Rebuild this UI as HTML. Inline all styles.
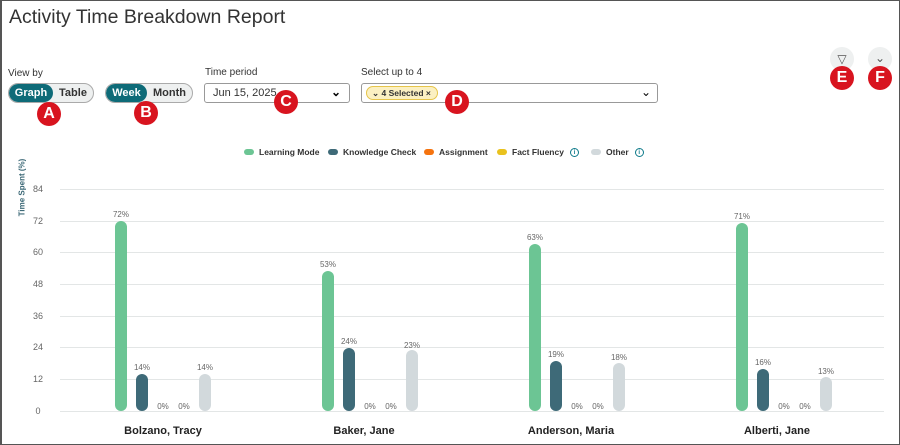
<!DOCTYPE html>
<html><head><meta charset="utf-8"><style>
*{box-sizing:border-box;margin:0;padding:0}
body{width:900px;height:445px;background:#fff;font-family:"Liberation Sans",sans-serif;position:relative;overflow:hidden;border:1px solid #555;border-left:2px solid #555}
.a{position:absolute}
.t{color:#333}
.seg{position:absolute;height:20px;border:1px solid #aaa;border-radius:10px;display:flex;overflow:hidden;font-size:11px;font-weight:bold;background:#eef0f0}
.seg div{display:flex;align-items:center;justify-content:center;color:#333}
.seg .on{background:#0e6b78;color:#fff;border-radius:10px}
.badge{position:absolute;width:24px;height:24px;border-radius:50%;background:#d8141f;color:#fff;font-size:16px;font-weight:bold;display:flex;align-items:center;justify-content:center}
.lbl{position:absolute;font-size:10px;color:#333}
.sel{position:absolute;height:20px;border:1px solid #999;border-radius:3px;background:#fff}
.grid{position:absolute;left:58px;width:824px;height:1px;background:#e3e6e6}
.yt{position:absolute;left:28px;width:16px;text-align:center;font-size:9px;color:#666}
.bar{position:absolute;width:12px;border-radius:6px}
.pv{position:absolute;width:30px;text-align:center;font-size:8px;color:#666}
.nm{position:absolute;width:140px;text-align:center;font-size:11px;font-weight:bold;color:#222;top:424px}
.lg{position:absolute;top:146px;font-size:8.5px;font-weight:bold;color:#333;display:flex;align-items:center}
.dot{display:inline-block;width:10px;height:6px;border-radius:3px;margin-right:5px}
.info{display:inline-block;width:9px;height:9px;border:1px solid #0e7a8a;border-radius:50%;margin-left:6px;font-size:6px;color:#0e7a8a;text-align:center;line-height:8px}
</style></head><body>
<div class="a t" style="left:7px;top:5px;font-size:19.5px;">Activity Time Breakdown Report</div>
<div class="lbl" style="left:6px;top:67px">View by</div>
<div class="seg" style="left:6px;top:82px;width:86px"><div class="on" style="width:44px">Graph</div><div style="width:40px">Table</div></div>
<div class="seg" style="left:103px;top:82px;width:88px"><div class="on" style="width:41px">Week</div><div style="width:45px">Month</div></div>
<div class="badge" style="left:35px;top:101px">A</div>
<div class="badge" style="left:132px;top:100px">B</div>
<div class="lbl" style="left:203px;top:66px">Time period</div>
<div class="sel" style="left:202px;top:82px;width:146px"><span class="a" style="left:8px;top:3px;font-size:11px;color:#333">Jun 15, 2025</span><span class="a" style="right:8px;top:1px;font-size:12px;font-weight:bold">&#8964;</span></div>
<div class="badge" style="left:272px;top:89px">C</div>
<div class="lbl" style="left:359px;top:66px">Select up to 4</div>
<div class="sel" style="left:359px;top:82px;width:297px"><span class="a" style="left:4px;top:2px;height:14px;width:72px;border:1px solid #e6c54a;background:#fbf0c2;border-radius:7px;font-size:8.5px;font-weight:bold;color:#333;padding-left:5px;line-height:12px">&#8964; 4 Selected &#215;</span><span class="a" style="right:6px;top:1px;font-size:12px">&#8964;</span></div>
<div class="badge" style="left:443px;top:89px">D</div>
<div class="a" style="left:828px;top:46px;width:24px;height:24px;border-radius:50%;background:#eef0f0;text-align:center;font-size:12px;color:#555;line-height:24px">&#9661;</div>
<div class="a" style="left:866px;top:46px;width:24px;height:24px;border-radius:50%;background:#eef0f0;text-align:center;font-size:12px;color:#555;line-height:22px">&#8964;</div>
<div class="badge" style="left:828px;top:65px">E</div>
<div class="badge" style="left:866px;top:65px">F</div>

<div class="lg" style="left:242px"><span class="dot" style="background:#6cc594"></span>Learning Mode</div>
<div class="lg" style="left:326px"><span class="dot" style="background:#3e6a78"></span>Knowledge Check</div>
<div class="lg" style="left:422px"><span class="dot" style="background:#f5730f"></span>Assignment</div>
<div class="lg" style="left:495px"><span class="dot" style="background:#e9c21e"></span>Fact Fluency<span class="info">i</span></div>
<div class="lg" style="left:589px"><span class="dot" style="background:#d2d9dc"></span>Other<span class="info">i</span></div>

<div class="a" style="left:2px;top:150px;width:30px;height:80px;"><div style="position:absolute;left:-22px;top:32px;width:80px;transform:rotate(-90deg);font-size:8px;font-weight:bold;color:#3e6a78;text-align:center">Time Spent (%)</div></div>

<div class="grid" style="top:188px"></div><div class="yt" style="top:183px">84</div>
<div class="grid" style="top:220px"></div><div class="yt" style="top:215px">72</div>
<div class="grid" style="top:251px"></div><div class="yt" style="top:246px">60</div>
<div class="grid" style="top:283px"></div><div class="yt" style="top:278px">48</div>
<div class="grid" style="top:315px"></div><div class="yt" style="top:310px">36</div>
<div class="grid" style="top:346px"></div><div class="yt" style="top:341px">24</div>
<div class="grid" style="top:378px"></div><div class="yt" style="top:373px">12</div>
<div class="grid" style="top:410px"></div><div class="yt" style="top:405px">0</div>

<div class="bar" style="left:113px;top:220px;height:190px;background:#6cc594"></div><div class="pv" style="left:104px;top:209px">72%</div>
<div class="bar" style="left:134px;top:373px;height:37px;background:#3e6a78"></div><div class="pv" style="left:125px;top:362px">14%</div>
<div class="pv" style="left:146px;top:401px">0%</div><div class="pv" style="left:167px;top:401px">0%</div>
<div class="bar" style="left:197px;top:373px;height:37px;background:#d2d9dc"></div><div class="pv" style="left:188px;top:362px">14%</div>
<div class="nm" style="left:91px">Bolzano, Tracy</div>

<div class="bar" style="left:320px;top:270px;height:140px;background:#6cc594"></div><div class="pv" style="left:311px;top:259px">53%</div>
<div class="bar" style="left:341px;top:347px;height:63px;background:#3e6a78"></div><div class="pv" style="left:332px;top:336px">24%</div>
<div class="pv" style="left:353px;top:401px">0%</div><div class="pv" style="left:374px;top:401px">0%</div>
<div class="bar" style="left:404px;top:349px;height:61px;background:#d2d9dc"></div><div class="pv" style="left:395px;top:340px">23%</div>
<div class="nm" style="left:292px">Baker, Jane</div>

<div class="bar" style="left:527px;top:243px;height:167px;background:#6cc594"></div><div class="pv" style="left:518px;top:232px">63%</div>
<div class="bar" style="left:548px;top:360px;height:50px;background:#3e6a78"></div><div class="pv" style="left:539px;top:349px">19%</div>
<div class="pv" style="left:560px;top:401px">0%</div><div class="pv" style="left:581px;top:401px">0%</div>
<div class="bar" style="left:611px;top:362px;height:48px;background:#d2d9dc"></div><div class="pv" style="left:602px;top:352px">18%</div>
<div class="nm" style="left:499px">Anderson, Maria</div>

<div class="bar" style="left:734px;top:222px;height:188px;background:#6cc594"></div><div class="pv" style="left:725px;top:211px">71%</div>
<div class="bar" style="left:755px;top:368px;height:42px;background:#3e6a78"></div><div class="pv" style="left:746px;top:357px">16%</div>
<div class="pv" style="left:767px;top:401px">0%</div><div class="pv" style="left:788px;top:401px">0%</div>
<div class="bar" style="left:818px;top:376px;height:34px;background:#d2d9dc"></div><div class="pv" style="left:809px;top:366px">13%</div>
<div class="nm" style="left:705px">Alberti, Jane</div>
</body></html>
